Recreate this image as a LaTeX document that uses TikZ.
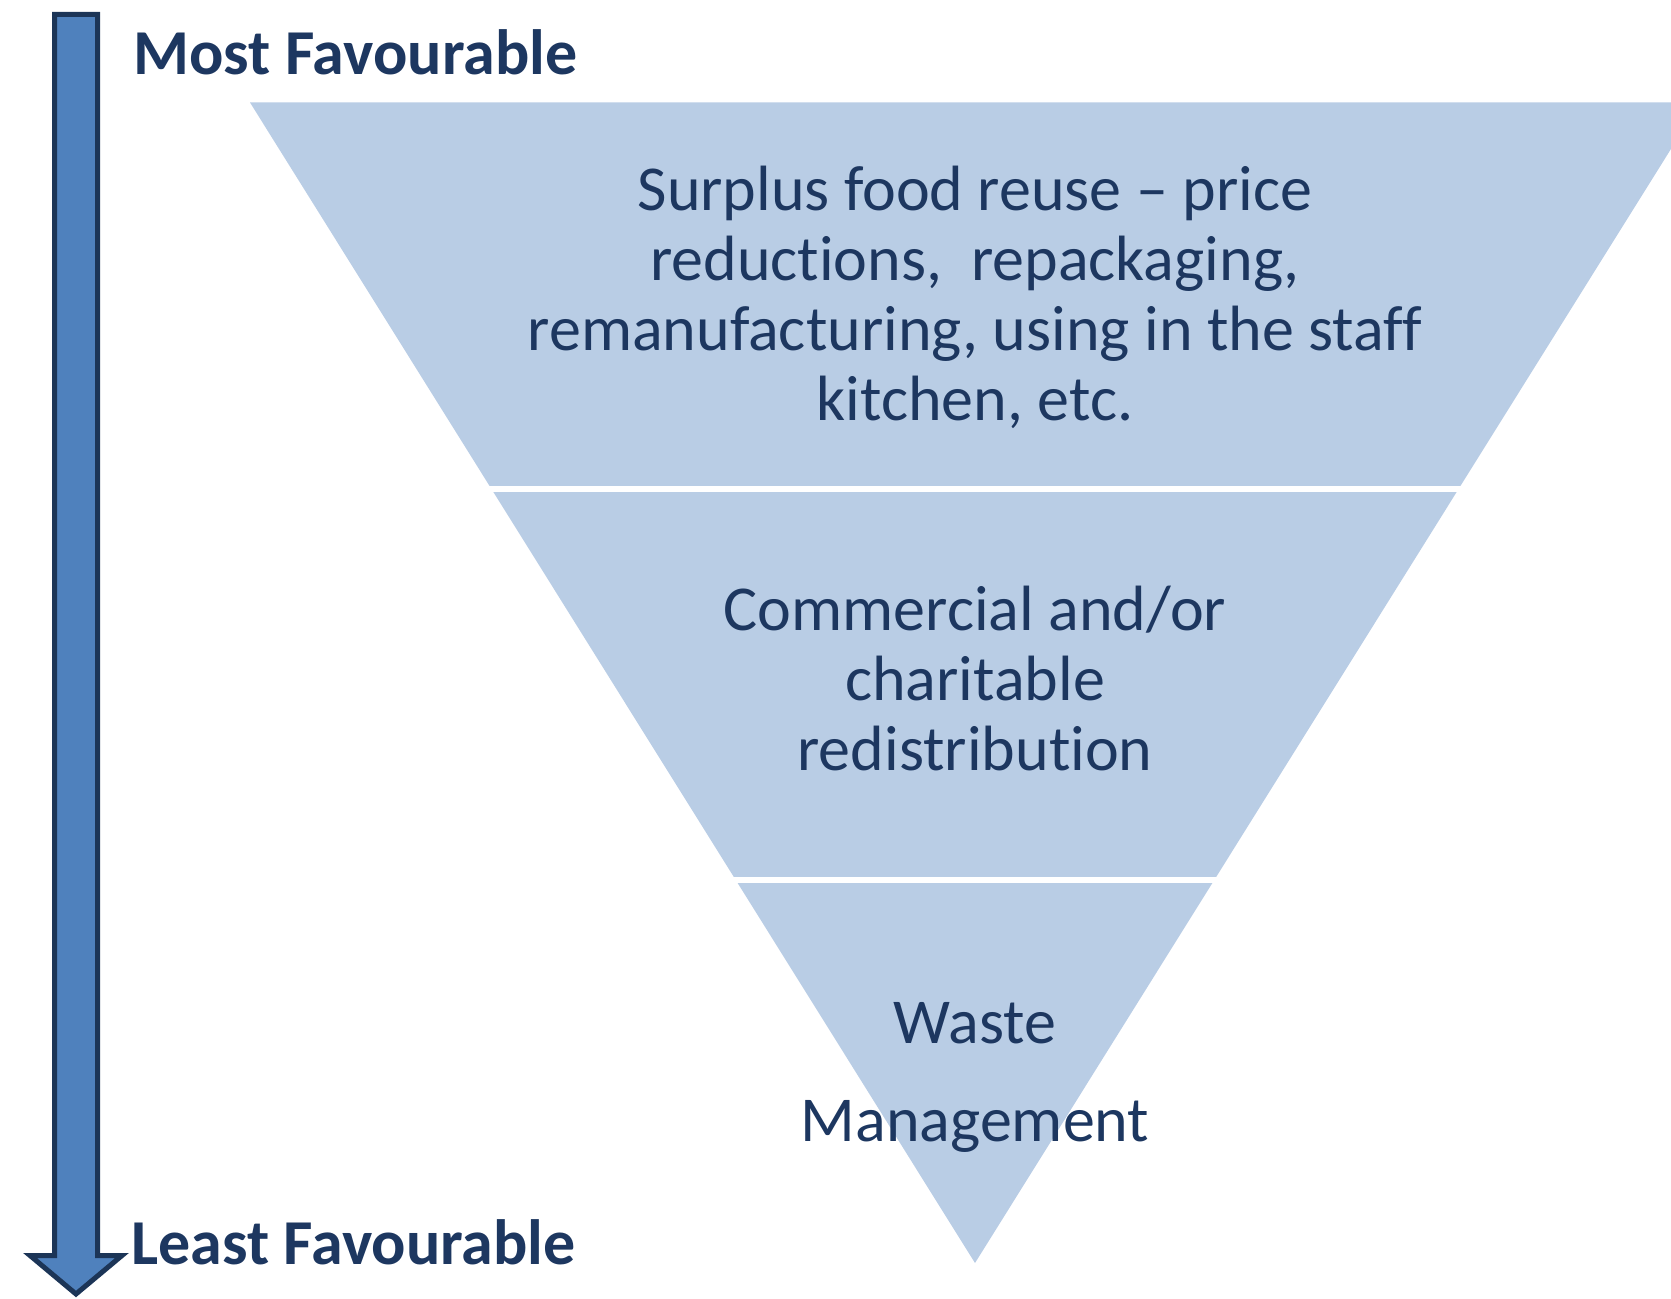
\documentclass[tikz,border=0pt]{standalone}
\usepackage{fontspec}
\setmainfont{Carlito}[Ligatures=CommonOff]
\usetikzlibrary{positioning,calc}
\usepackage{xcolor}
\definecolor{tierblue}{HTML}{B9CDE5}
\definecolor{arrowblue}{HTML}{4F81BD}
\definecolor{arrowedge}{HTML}{1C3557}
\definecolor{textnavy}{HTML}{1D3760}

\begin{document}
\begin{tikzpicture}[x=0.5pt, y=-0.5pt,
    tier/.style={text=textnavy, align=center, inner sep=0pt, font=\fontsize{32}{35}\selectfont},
    rank/.style={text=textnavy, anchor=base west, inner sep=0pt, font=\bfseries\fontsize{32}{40}\selectfont},
    gap/.style={white, line width=2.6pt, shorten <=-4pt, shorten >=-4pt}]
    \useasboundingbox (0,0) rectangle (1671,1299);

    % inverted triangle of the hierarchy
    \coordinate (tl) at (250,102.5);
    \coordinate (tr) at (1700,102.5);
    \coordinate (apex) at (975,1263);
    \begin{scope}
        \clip (0,0) rectangle (1671,1299);
        \fill[tierblue] (tl) -- (tr) -- (apex) -- cycle;
        \draw[gap] ($(tl)!0.333!(apex)$) -- ($(tr)!0.333!(apex)$);
        \draw[gap] ($(tl)!0.670!(apex)$) -- ($(tr)!0.670!(apex)$);
    \end{scope}

    % downward arrow on the left
    \draw[arrowedge, fill=arrowblue, line width=2.5pt]
        (54.5,14.5) -- (97.5,14.5) -- (97.5,1255.5) -- (122,1255.5) -- (76,1294)
        -- (30,1255.5) -- (54.5,1255.5) -- cycle;

    \node (most) [rank] at (133,75) {Most Favourable};
    \node (least) [rank] at (131,1264) {Least Favourable};

    % tier texts
    \node (reuse) [tier] at (975,297) {Surplus food reuse – price\\ reductions,\ \ repackaging,\\ remanufacturing, using in the staff\\ kitchen, etc.};
    \node (redist) [tier] at (975,679) {Commercial and/or\\ charitable\\ redistribution};
    \node (waste) [tier, font=\fontsize{32}{49}\selectfont] at (975,1077) {Waste\\ Management};
\end{tikzpicture}
\end{document}
